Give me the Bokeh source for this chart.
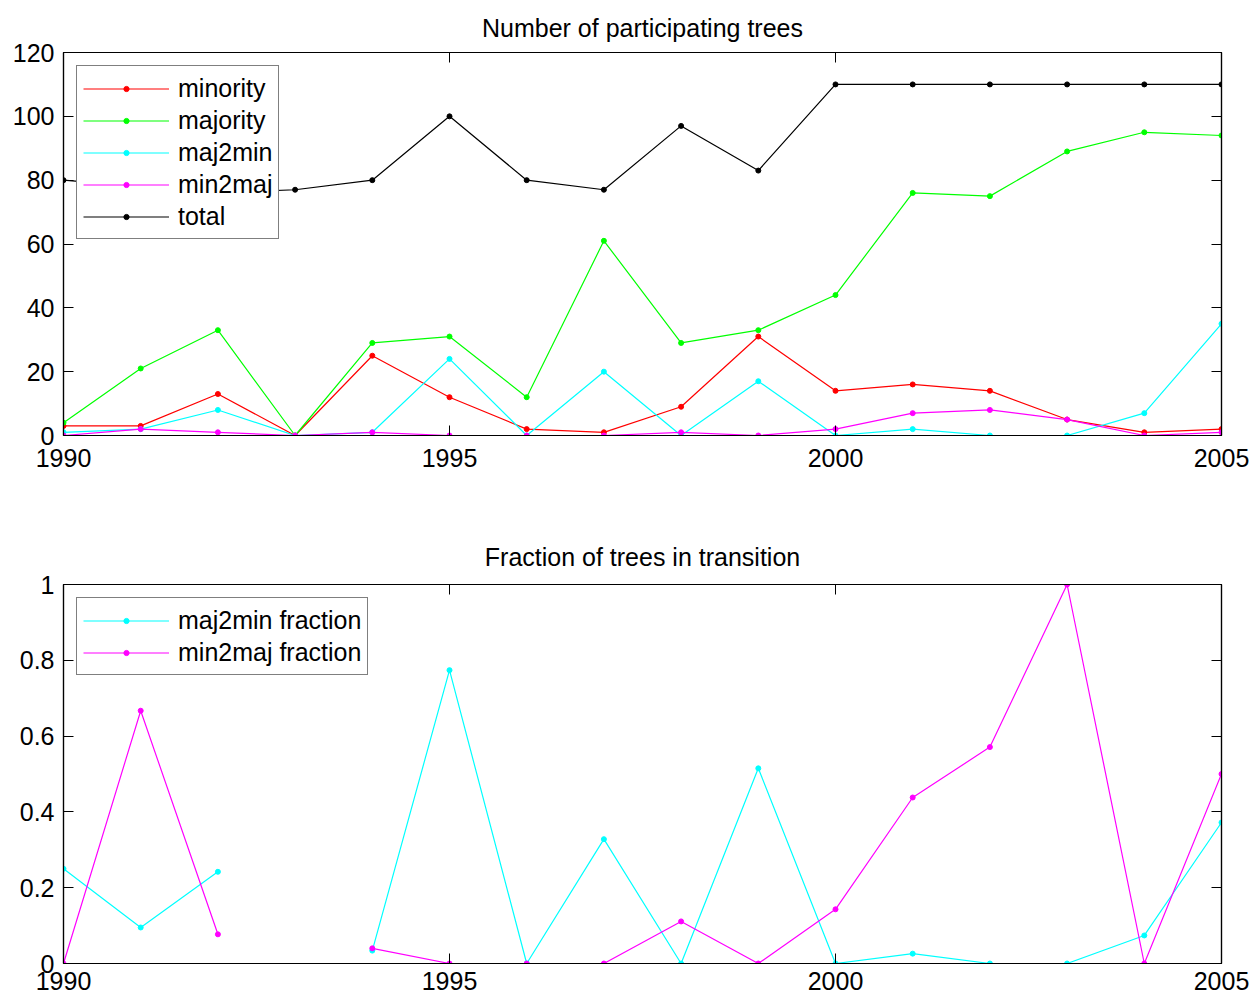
from bokeh.plotting import figure
from bokeh.layouts import column
from bokeh.models import FixedTicker, LinearAxis, Legend, LegendItem, Range1d
from bokeh.embed import file_html
from bokeh.resources import INLINE

nan = float("nan")

years = list(range(1990, 2006))
minority = [3, 3, 13, 0, 25, 12, 2, 1, 9, 31, 14, 16, 14, 5, 1, 2]
majority = [4, 21, 33, 0, 29, 31, 12, 61, 29, 33, 44, 76, 75, 89, 95, 94]
maj2min = [1, 2, 8, 0, 1, 24, 0, 20, 0, 17, 0, 2, 0, 0, 7, 35]
min2maj = [0, 2, 1, 0, 1, 0, 0, 0, 1, 0, 2, 7, 8, 5, 0, 1]
total = [80, 78, 76, 77, 80, 100, 80, 77, 97, 83, 110, 110, 110, 110, 110, 110]

maj2min_frac = [0.25, 0.095, 0.242, nan, 0.034, 0.774, 0.0, 0.328, 0.0, 0.515,
                0.0, 0.026, 0.0, 0.0, 0.074, 0.372]
min2maj_frac = [0.0, 0.667, 0.077, nan, 0.04, 0.0, 0.0, 0.0, 0.111, 0.0,
                0.143, 0.438, 0.571, 1.0, 0.0, 0.5]

x_ticks = [1990, 1995, 2000, 2005]
y1_ticks = [0, 20, 40, 60, 80, 100, 120]
y2_ticks = [0, 0.2, 0.4, 0.6, 0.8, 1]
y2_tick_labels = ["0", "0.2", "0.4", "0.6", "0.8", "1"]

title1 = "Number of participating trees"
title2 = "Fraction of trees in transition"

FONT = "Liberation Sans"
FS = "25px"


def style_axis(ax, ticks, labels=True):
    ax.ticker = FixedTicker(ticks=ticks)
    ax.minor_tick_line_color = None
    ax.major_tick_in = 10
    ax.major_tick_out = 0
    ax.major_tick_line_color = "black"
    ax.major_tick_line_width = 1
    ax.axis_line_color = "black"
    ax.axis_line_width = 1.2
    ax.major_label_text_font = FONT
    ax.major_label_text_color = "black"
    if labels:
        ax.major_label_text_font_size = FS
    else:
        ax.major_label_text_font_size = "1px"
        ax.major_label_text_color = None
        ax.major_label_standoff = 0


def make_fig(height, y_end, yticks, title, border_top, border_bottom,
             title_standoff, xlabel_standoff):
    p = figure(width=1252, height=height, output_backend="svg", toolbar_location=None,
               x_range=Range1d(1990, 2005), y_range=Range1d(0, y_end),
               min_border_left=63, min_border_right=31,
               min_border_top=border_top, min_border_bottom=border_bottom,
               title=title)
    p.title.text_font = FONT
    p.title.text_font_size = FS
    p.title.text_font_style = "normal"
    p.title.text_color = "black"
    p.title.align = "center"
    p.title.standoff = title_standoff
    p.xgrid.visible = False
    p.ygrid.visible = False
    p.outline_line_color = "black"
    p.outline_line_width = 1.2
    p.background_fill_color = "white"
    p.border_fill_color = "white"
    style_axis(p.xaxis[0], x_ticks)
    p.xaxis[0].major_label_standoff = xlabel_standoff
    style_axis(p.yaxis[0], yticks)
    p.yaxis[0].major_label_standoff = 9
    top_ax = LinearAxis()
    style_axis(top_ax, x_ticks, labels=False)
    p.add_layout(top_ax, "above")
    right_ax = LinearAxis()
    style_axis(right_ax, yticks, labels=False)
    p.add_layout(right_ax, "right")
    return p


def add_series(p, y, color, label, items):
    r1 = p.line(years, y, line_color=color, line_width=1.2)
    r2 = p.scatter(years, y, size=5, fill_color=color, line_color=color)
    items.append(LegendItem(label=label, renderers=[r1, r2]))


def make_legend(items):
    lg = Legend(items=items, location="top_left")
    lg.margin = 13
    lg.padding = 6
    lg.spacing = 0
    lg.glyph_width = 86
    lg.glyph_height = 13
    lg.label_height = 32
    lg.label_standoff = 9
    lg.label_text_font = FONT
    lg.label_text_font_size = FS
    lg.label_text_color = "black"
    lg.label_text_baseline = "middle"
    lg.border_line_color = "black"
    lg.border_line_width = 1.2
    lg.background_fill_color = "white"
    lg.background_fill_alpha = 1.0
    return lg


p1 = make_fig(504, 120, y1_ticks, title1, 52, 69, 22, 13)
items1 = []
add_series(p1, minority, "#ff0000", "minority", items1)
add_series(p1, majority, "#00ff00", "majority", items1)
add_series(p1, maj2min, "#00ffff", "maj2min", items1)
add_series(p1, min2maj, "#ff00ff", "min2maj", items1)
add_series(p1, total, "#000000", "total", items1)
p1.add_layout(make_legend(items1), "center")

p2 = make_fig(496, 1, y2_ticks, title2, 80, 37, 28, 8)
p2.yaxis[0].major_label_overrides = {t: s for t, s in zip(y2_ticks, y2_tick_labels)}
items2 = []
add_series(p2, maj2min_frac, "#00ffff", "maj2min fraction", items2)
add_series(p2, min2maj_frac, "#ff00ff", "min2maj fraction", items2)
p2.add_layout(make_legend(items2), "center")

layout = column(p1, p2, spacing=0)
open("out.html", "w").write(file_html(layout, INLINE))
